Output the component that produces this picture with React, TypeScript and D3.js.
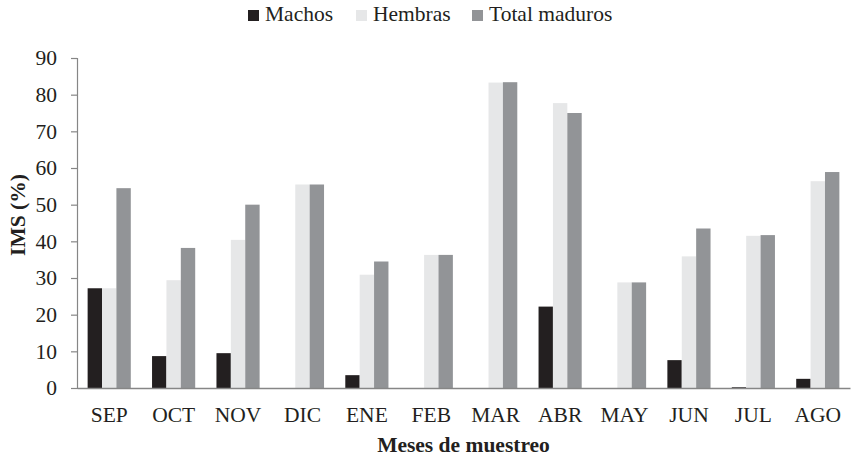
import React, { useEffect, useRef } from "react";
import * as d3 from "d3";

const months = ["SEP", "OCT", "NOV", "DIC", "ENE", "FEB", "MAR", "ABR", "MAY", "JUN", "JUL", "AGO"];
const machos = [27.2, 8.7, 9.5, 0, 3.5, 0, 0, 22.2, 0, 7.6, 0.2, 2.5];
const hembras = [27.2, 29.4, 40.4, 55.5, 30.9, 36.3, 83.3, 77.7, 28.8, 35.9, 41.5, 56.4];
const total = [54.5, 38.2, 50.0, 55.5, 34.5, 36.3, 83.4, 75.0, 28.8, 43.5, 41.7, 58.9];
const seriesNames = ["Machos", "Hembras", "Total maduros"];
const seriesColors = ["#231f20", "#e6e7e8", "#929497"];
const yTicks = [0, 10, 20, 30, 40, 50, 60, 70, 80, 90];

const W = 851, H = 461;
const margin = { left: 77, right: 1, top: 58, bottom: 73 };
const FONT = "Liberation Serif, DejaVu Serif, serif";

export default function App() {
  const ref = useRef<SVGSVGElement>(null);

  useEffect(() => {
    const svg = d3.select(ref.current);
    svg.selectAll("*").remove();

    const x0 = d3.scaleBand().domain(months).range([margin.left, W - margin.right]).paddingInner(0.33).paddingOuter(0.165);
    const x1 = d3.scaleBand().domain(seriesNames).range([0, x0.bandwidth()]);
    const y = d3.scaleLinear().domain([0, 90]).range([H - margin.bottom, margin.top]);

    const data = months.map((m, i) => ({ m, vals: [machos[i], hembras[i], total[i]] }));

    const groups = svg.append("g").selectAll("g").data(data).join("g")
      .attr("transform", d => `translate(${x0(d.m)},0)`);
    groups.selectAll("rect").data(d => d.vals.map((v, k) => ({ v, k }))).join("rect")
      .attr("x", d => x1(seriesNames[d.k])!)
      .attr("width", x1.bandwidth())
      .attr("y", d => y(d.v))
      .attr("height", d => y(0) - y(d.v))
      .attr("fill", d => seriesColors[d.k]);

    // y axis
    const yAxis = svg.append("g").attr("transform", `translate(${margin.left},0)`)
      .call(d3.axisLeft(y).tickValues(yTicks).tickSize(6).tickPadding(14));
    yAxis.attr("font-family", null).attr("font-size", null);
    yAxis.select(".domain").attr("stroke", "#868686").attr("stroke-width", 1.2);
    yAxis.selectAll(".tick line").attr("stroke", "#868686").attr("stroke-width", 1.2);
    yAxis.selectAll(".tick text").style("font-family", FONT).style("font-size", "21.5px").attr("fill", "#231f20");

    // x axis
    const xAxis = svg.append("g").attr("transform", `translate(0,${y(0)})`)
      .call(d3.axisBottom(x0).tickSize(0).tickPadding(19));
    xAxis.attr("font-family", null).attr("font-size", null);
    xAxis.select(".domain").attr("stroke", "#868686").attr("stroke-width", 1.5);
    xAxis.selectAll(".tick text").style("font-family", FONT).style("font-size", "21.5px").attr("fill", "#231f20");

    // axis titles
    svg.append("text").attr("x", (margin.left + W - margin.right) / 2).attr("y", 452)
      .attr("text-anchor", "middle").style("font-family", FONT).attr("font-weight", "bold")
      .style("font-size", "21.5px").attr("fill", "#231f20").text("Meses de muestreo");
    svg.append("text").attr("transform", `translate(25,215) rotate(-90)`)
      .attr("text-anchor", "middle").style("font-family", FONT).attr("font-weight", "bold")
      .style("font-size", "21.5px").attr("fill", "#231f20").text("IMS (%)");

    // legend
    const legX = [248, 356, 472];
    const leg = svg.append("g").selectAll("g").data(seriesNames).join("g")
      .attr("transform", (d, i) => `translate(${legX[i]},10)`);
    leg.append("rect").attr("width", 11).attr("height", 11).attr("fill", (d, i) => seriesColors[i]);
    leg.append("text").attr("x", 17).attr("y", 11).style("font-family", FONT).style("font-size", "21.5px")
      .attr("fill", "#231f20").text(d => d);
  }, []);

  return (
    <svg ref={ref} width={W} height={H} style={{ position: "absolute", left: 0, top: 0, background: "#fff" }} />
  );
}
